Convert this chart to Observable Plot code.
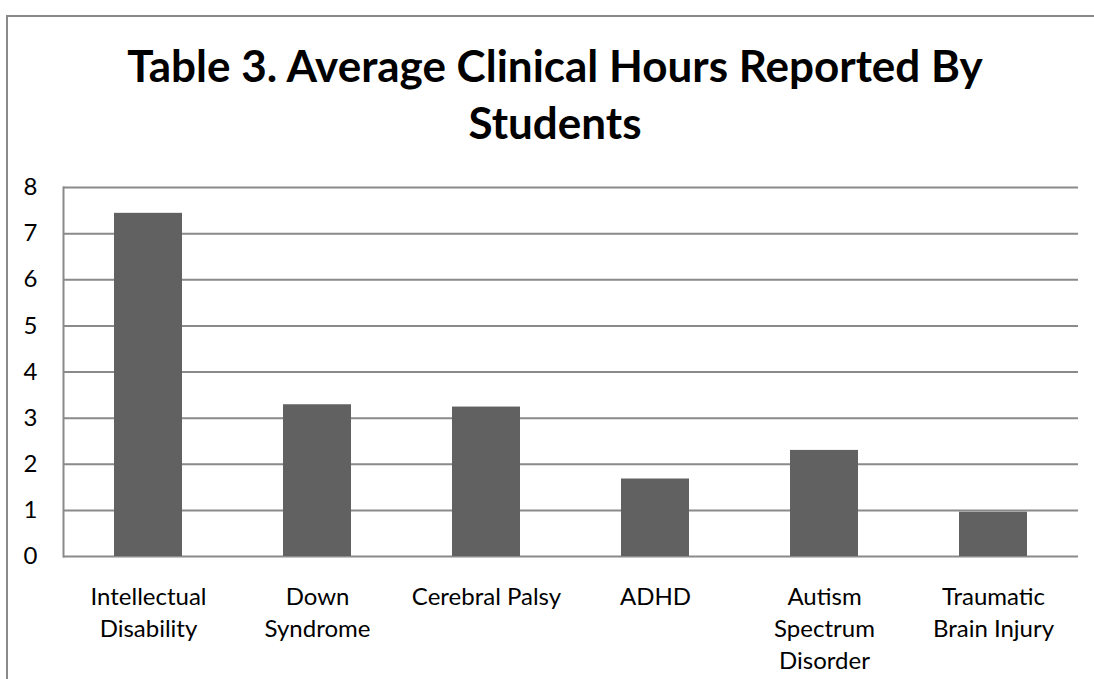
<!DOCTYPE html>
<html>
<head>
<meta charset="utf-8">
<script src="https://cdn.jsdelivr.net/npm/d3@7"></script>
<script src="https://cdn.jsdelivr.net/npm/@observablehq/plot@0.6"></script>
<style>
  html, body { margin: 0; padding: 0; background: #fff; overflow: hidden; }
  #page { position: relative; width: 1094px; height: 679px; overflow: hidden; }
  #frame { position: absolute; left: 6px; top: 15px; width: 1200px; height: 800px;
           border-left: 2px solid #8a8a8a; border-top: 2px solid #8a8a8a; }
  #title { position: absolute; left: 0; width: 1110px; top: 37px; text-align: center;
           font-family: Lato, "Open Sans", sans-serif; font-weight: 700; font-size: 44px;
           line-height: 57px; color: #000; }
  #chart { position: absolute; left: 0; top: 170px; }
</style>
</head>
<body>
<div id="page">
  <div id="frame"></div>
  <div id="title">Table 3. Average Clinical Hours Reported By<br>Students</div>
  <div id="chart"></div>
</div>
<script>
const categories = ["Intellectual Disability", "Down Syndrome", "Cerebral Palsy", "ADHD", "Autism Spectrum Disorder", "Traumatic Brain Injury"];
const tickLabels = ["Intellectual\nDisability", "Down\nSyndrome", "Cerebral Palsy", "ADHD", "Autism\nSpectrum\nDisorder", "Traumatic\nBrain Injury"];
const hours = [7.44, 3.29, 3.24, 1.68, 2.30, 0.96];
const yTicks = [0, 1, 2, 3, 4, 5, 6, 7, 8];

const data = categories.map((c, i) => ({category: c, hours: hours[i]}));
const labelOf = new Map(categories.map((c, i) => [c, tickLabels[i]]));

const chart = Plot.plot({
  width: 1094,
  height: 509,
  marginTop: 17,
  marginBottom: 123,
  marginLeft: 63,
  marginRight: 16,
  style: {fontFamily: "Lato, 'Open Sans', sans-serif", fontSize: "24px", color: "#000", background: "transparent", overflow: "visible"},
  x: {domain: categories, paddingInner: 0.6, paddingOuter: 0.3, label: null},
  y: {domain: [0, 8], label: null},
  marks: [
    Plot.ruleY(yTicks, {stroke: "#8a8a8a", strokeWidth: 2}),
    Plot.frame({anchor: "left", stroke: "#8a8a8a", strokeWidth: 2}),
    Plot.barY(data, {x: "category", y: "hours", fill: "#616161"}),
    Plot.axisY({ticks: yTicks, tickSize: 0, tickPadding: 26, tickFormat: d => String(d), label: null, fill: "#000"}),
    Plot.axisX({tickSize: 0, tickPadding: 26, tickFormat: d => labelOf.get(d), lineHeight: 1.33, label: null, fill: "#000"})
  ]
});
document.getElementById("chart").appendChild(chart);
</script>
</body>
</html>
